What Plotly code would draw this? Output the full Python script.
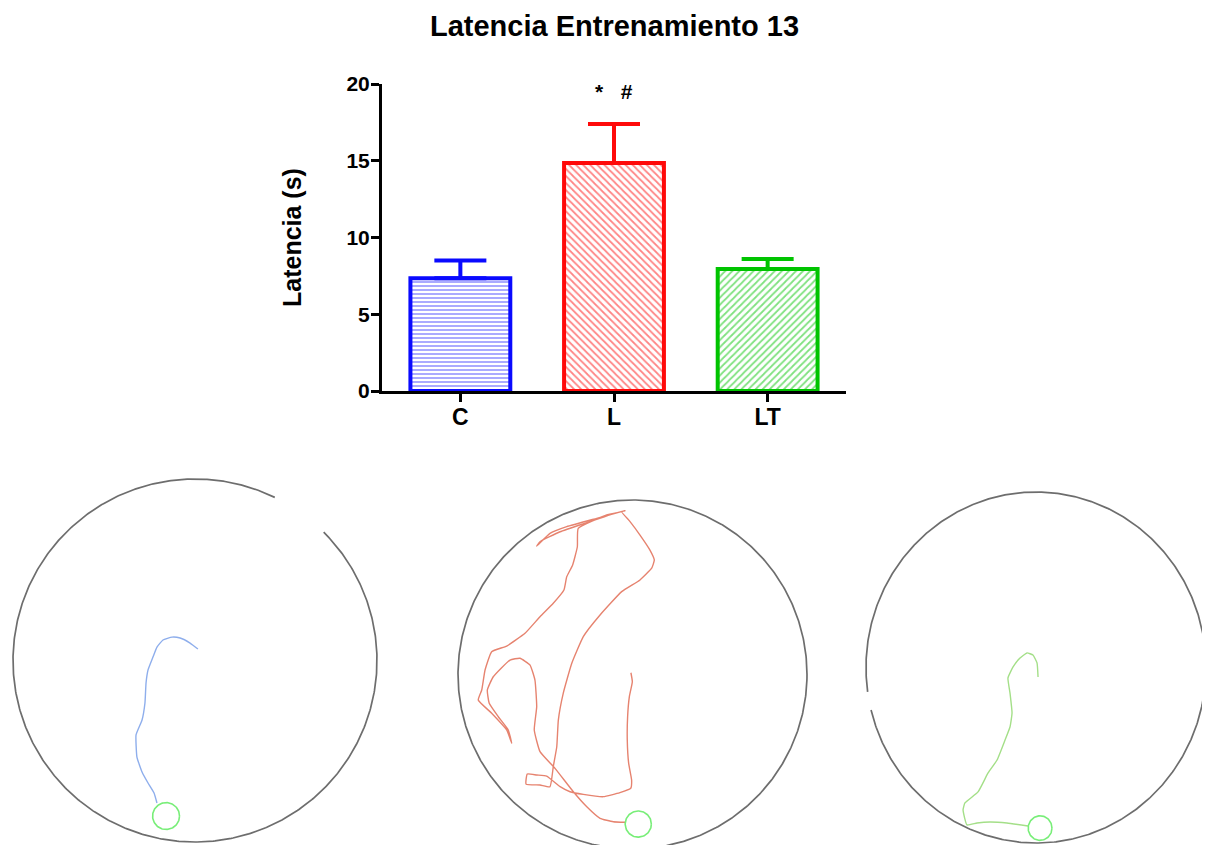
import numpy as np
import plotly.graph_objects as go

# ---------------- data ----------------
groups = ["C", "L", "LT"]
latency_mean = [7.35, 14.85, 7.95]
latency_sem = [1.15, 2.55, 0.65]
bar_colors = ["#0a0aff", "#ff0a0a", "#00c400"]
bar_patterns = ["-", "\\", "/"]
sig_text = "*   #"
yticks = [0, 5, 10, 15, 20]
title_text = "Latencia Entrenamiento 13"
ytitle_text = "Latencia (s)"

# swim paths, arena units (arena radius = 100, centre = 0,0)
track_C_x = [1.6, -2.7, -8.2, -12.6, -17.6, -20.9, -23.1, -25.8, -26.9, -27.5, -29.1,
             -32.4, -31.9, -29.1, -25.8, -22.5, -20.9]
track_C_y = [6.3, 9.6, 12.4, 12.9, 11.3, 7.4, 1.9, -5.2, -12.4, -23.4, -32.8,
             -41.0, -53.2, -61.4, -67.5, -73.0, -78.5]

track_L_x = [-0.9, -0.1, -1.8, -2.8, -3.0, -2.2, -0.5, -1.0, -7.2, -16.7, -28.2, -35.8,
             -41.5, -49.2, -54.9, -60.3, -61.0, -53.0, -47.3, -45.4, -43.4, -42.5, -39.7,
             -34.8, -28.2, -18.6, -6.2, 4.3, 11.0, 12.5, 10.0, 4.3, -1.4, -6.2, -4.3,
             -20.5, -37.7, -47.3, -54.9, -53.0, -41.5, -26.2, -9.1, -14.8, -31.1, -31.6,
             -34.3, -37.7, -39.3, -45.4, -53.0, -61.6, -72.1, -80.7, -84.5, -86.4, -88.4,
             -80.7, -72.1, -69.2, -71.2, -76.9, -82.1, -83.2, -79.8, -70.2, -64.5, -58.7,
             -55.9, -54.9, -56.3, -53.0, -44.4, -33.9, -26.2, -18.6, -11.0, -4.3]
track_L_y = [1.0, -4.1, -12.7, -24.2, -37.5, -50.9, -60.5, -65.2, -67.7, -70.0, -68.7, -67.2,
             -64.3, -58.2, -57.6, -57.0, -62.8, -63.3, -64.3, -52.8, -41.4, -26.1, -10.8,
             6.4, 21.7, 34.1, 47.5, 54.2, 60.9, 65.6, 71.3, 79.9, 87.6, 93.3, 93.9,
             89.5, 84.7, 80.9, 73.6, 76.1, 81.8, 87.0, 92.7, 91.4, 83.8, 73.2,
             62.8, 56.0, 48.4, 40.8, 33.1, 23.6, 16.3, 13.1, 2.6, -8.9, -14.6,
             -22.2, -31.8, -39.4, -31.8, -24.2, -16.5, -8.9, -1.3, 8.3, 9.3, 5.4,
             -3.2, -18.5, -31.8, -44.2, -53.8, -67.2, -75.8, -82.4, -84.4, -84.7]

track_LT_x = [1.2, 0.6, -1.8, -5.3, -9.4, -13.5, -16.5, -15.3, -14.1, -15.3, -18.2, -22.9,
              -28.2, -34.1, -41.8, -42.9, -40.6, -34.7, -27.1, -17.1, -4.7]
track_LT_y = [-5.4, 2.6, 7.1, 8.3, 5.4, 0.3, -6.0, -14.5, -25.9, -33.9, -41.3, -52.7,
              -60.1, -70.9, -77.2, -81.2, -89.7, -88.6, -88.0, -88.6, -90.3]

track_colors = ["#8eaeec", "#e6836f", "#a4df88"]
goal_x = [-15.9, 3.3, 2.4]
goal_y = [-85.7, -85.7, -91.5]
goal_r = [7.4, 7.5, 7.0]
goal_color = "#78ee78"
# wall openings (degrees, counter-clockwise from +x); None = closed
arena_gap = [(45, 64), None, (188, 194)]
arena_color = "#5e5e5e"

# ---------------- layout helpers ----------------
VW, VH = 1210, 845          # browser window
OFF = 8                     # default page margin around the plot div
W, H = VW - OFF, VH - OFF   # figure size so that it ends at the window edge


def px_x(p):
    return (p - OFF) / W


def px_y(p):
    return 1 - (p - OFF) / H


# panel placement in window pixels: centre x, centre y, radius x, radius y
panel_px = [(195, 660.5, 182, 181.5), (632.5, 674.5, 174.5, 174.5), (1036, 667.5, 170, 175.5)]


def panel_axes(cx, cy, rx, ry, pad=1.03):
    x0, x1 = max(cx - rx * pad, OFF), min(cx + rx * pad, VW)
    y0, y1 = max(cy - ry * pad, OFF), min(cy + ry * pad, VH)
    xr = [(x0 - cx) / rx * 100, (x1 - cx) / rx * 100]
    yr = [(cy - y1) / ry * 100, (cy - y0) / ry * 100]
    return [px_x(x0), px_x(x1)], [px_y(y1), px_y(y0)], xr, yr


fig = go.Figure()

# ---------------- bar chart ----------------
for i, g in enumerate(groups):
    fig.add_trace(go.Bar(
        x=[i], y=[latency_mean[i]], width=0.65, name=g, showlegend=False,
        marker=dict(color="white",
                    line=dict(color=bar_colors[i], width=4),
                    pattern=dict(shape=bar_patterns[i], fgcolor=bar_colors[i],
                                 bgcolor="white", size=4 if bar_patterns[i] == "-" else 5,
                                 solidity=0.35)),
        error_y=dict(type="data", symmetric=False, array=[latency_sem[i]], arrayminus=[0],
                     color=bar_colors[i], thickness=4, width=26),
        xaxis="x", yaxis="y", hoverinfo="skip",
    ))

# ---------------- arenas ----------------
tracks = [(track_C_x, track_C_y), (track_L_x, track_L_y), (track_LT_x, track_LT_y)]
for k in range(3):
    ax = "x%d" % (k + 2)
    ay = "y%d" % (k + 2)
    gap = arena_gap[k]
    if gap is None:
        th = np.radians(np.linspace(0, 360, 600))
    else:
        th = np.radians(np.linspace(gap[1], gap[0] + 360, 600))
    fig.add_trace(go.Scatter(x=100 * np.cos(th), y=100 * np.sin(th), mode="lines",
                             line=dict(color=arena_color, width=1.7), opacity=0.9,
                             xaxis=ax, yaxis=ay, showlegend=False, hoverinfo="skip"))
    fig.add_trace(go.Scatter(x=tracks[k][0], y=tracks[k][1], mode="lines",
                             line=dict(color=track_colors[k], width=1.4, shape="spline",
                                       smoothing=0.4),
                             xaxis=ax, yaxis=ay, showlegend=False, hoverinfo="skip"))
    tg = np.radians(np.linspace(0, 360, 120))
    fig.add_trace(go.Scatter(x=goal_x[k] + goal_r[k] * np.cos(tg),
                             y=goal_y[k] + goal_r[k] * np.sin(tg), mode="lines",
                             line=dict(color=goal_color, width=1.6),
                             xaxis=ax, yaxis=ay, showlegend=False, hoverinfo="skip"))

layout_axes = {}
for k, (cx, cy, rx, ry) in enumerate(panel_px):
    xd, yd, xr, yr = panel_axes(cx, cy, rx, ry)
    layout_axes["xaxis%d" % (k + 2)] = dict(domain=xd, range=xr, visible=False, fixedrange=True,
                                            anchor="y%d" % (k + 2), automargin=False)
    layout_axes["yaxis%d" % (k + 2)] = dict(domain=yd, range=yr, visible=False, fixedrange=True,
                                            anchor="x%d" % (k + 2), automargin=False)

bold = dict(family="Liberation Sans, Arial, sans-serif", color="black", weight="bold")

fig.update_layout(
    width=W, height=H, margin=dict(l=0, r=0, t=0, b=0, autoexpand=False),
    paper_bgcolor="white", plot_bgcolor="white", barmode="overlay",
    title=dict(text=title_text, x=px_x(614.5), xanchor="center", y=px_y(25.5),
               yanchor="middle", font=dict(size=29, **bold)),
    xaxis=dict(domain=[px_x(382), px_x(846)], range=[-0.51, 2.51], tickvals=[0, 1, 2],
               ticktext=groups, ticks="outside", ticklen=8, tickwidth=3, tickcolor="black",
               showline=True, linewidth=3, linecolor="black", showgrid=False, zeroline=False,
               tickfont=dict(size=23, **bold), anchor="y", fixedrange=True, automargin=False,
               ticklabelstandoff=-5),
    yaxis=dict(domain=[px_y(391), px_y(84)], range=[0, 20], tickvals=yticks,
               ticks="outside", ticklen=8, tickwidth=3, tickcolor="black",
               showline=True, linewidth=3, linecolor="black", showgrid=False, zeroline=False,
               tickfont=dict(size=21, **bold), anchor="x", fixedrange=True, automargin=False,
               ticklabelstandoff=-3),
    annotations=[
        dict(text=ytitle_text, xref="paper", yref="paper", x=px_x(292), y=px_y(238),
             textangle=-90, showarrow=False, font=dict(size=25, **bold),
             xanchor="center", yanchor="middle"),
        dict(text=sig_text, xref="x", yref="y", x=1, y=19.5, showarrow=False,
             font=dict(size=21, **bold), xanchor="center", yanchor="middle"),
    ],
    **layout_axes,
)

fig.write_html("out.html")
